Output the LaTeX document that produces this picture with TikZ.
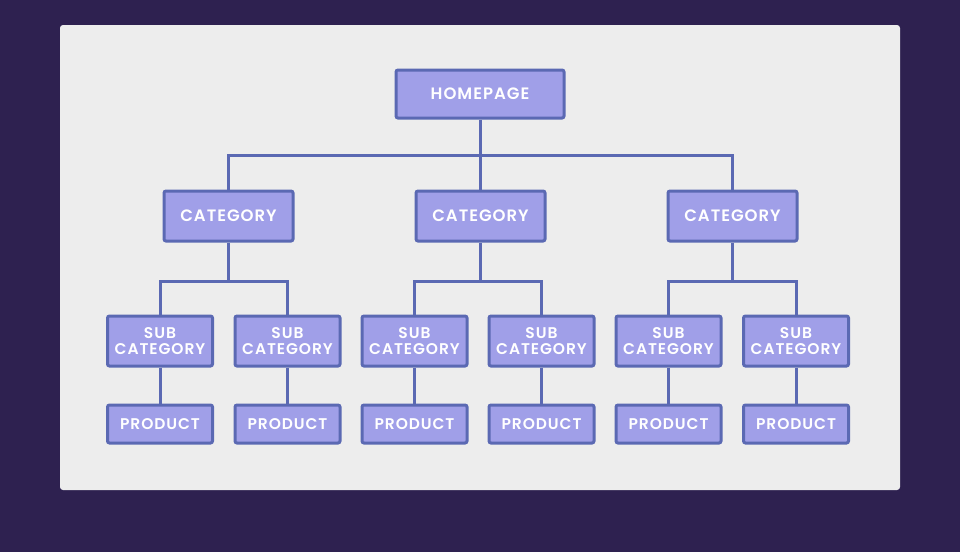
\documentclass[tikz,border=0pt]{standalone}
\usepackage{fontspec}
\setmainfont{Poppins}[BoldFont={Poppins SemiBold},LetterSpace=6]
\definecolor{bgpurple}{HTML}{2E2150}
\definecolor{panelgrey}{HTML}{EDEDED}
\definecolor{boxfill}{HTML}{A09FE8}
\definecolor{boxline}{HTML}{5B69B3}
\tikzset{
    pagebox/.style={draw=boxline,fill=boxfill,line width=3pt,rounded corners=2pt,
        text=white,font=\bfseries\fontsize{16.5}{18}\selectfont,align=center,inner sep=0pt},
    wire/.style={draw=boxline,line width=3pt}
}
\begin{document}
\begin{tikzpicture}[x=1pt,y=-1pt]
    \fill[bgpurple] (0,0) rectangle (960,552);
    \fill[panelgrey,rounded corners=3pt] (60,25) rectangle (900,490);

    % top level
    \node[pagebox,minimum width=168pt,minimum height=48pt] (home) at (480,94) {HOMEPAGE};

    % categories
    \node[pagebox,minimum width=129pt,minimum height=50pt] (cat1) at (228.5,216) {CATEGORY};
    \node[pagebox,minimum width=129pt,minimum height=50pt] (cat2) at (480.5,216) {CATEGORY};
    \node[pagebox,minimum width=129pt,minimum height=50pt] (cat3) at (732.5,216) {CATEGORY};

    % sub categories and products
    \foreach \i/\x in {1/160,2/287.5,3/414.5,4/541.5,5/668.5,6/796}
    {
        \node[pagebox,minimum width=105pt,minimum height=50pt,
            font=\bfseries\fontsize{15.5}{16}\selectfont] (sub\i) at (\x,341) {SUB\\CATEGORY};
        \node[pagebox,minimum width=105pt,minimum height=38pt,
            font=\bfseries\fontsize{15.5}{16}\selectfont] (prod\i) at (\x,424) {PRODUCT};
        \draw[wire] (sub\i.south) -- (prod\i.north);
    }

    % connectors
    \draw[wire] (home.south) -- ++(0,35.5) coordinate (hsplit);
    \draw[wire] (cat1.north) |- (hsplit) -| (cat3.north);
    \draw[wire] (cat2.north) -- (cat2.north |- hsplit);
    \foreach \c/\a/\b in {1/1/2,2/3/4,3/5/6}
    {
        \draw[wire] (cat\c.south) -- ++(0,38.5) coordinate (csplit\c);
        \draw[wire] (sub\a.north) |- (csplit\c) -| (sub\b.north);
    }
\end{tikzpicture}
\end{document}
